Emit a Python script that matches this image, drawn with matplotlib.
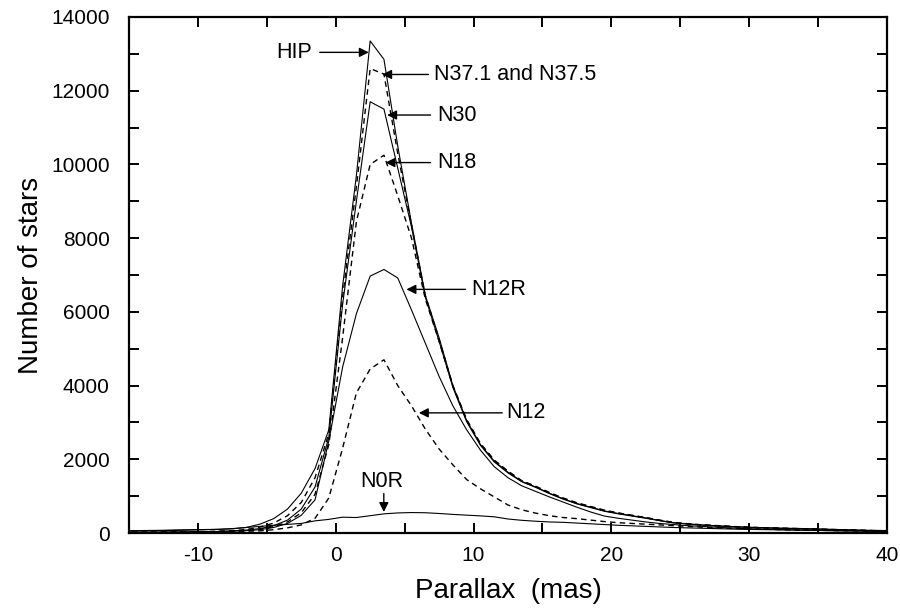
# Parallax distributions of the HIP samples (number of stars per 1 mas bin)

import numpy as np
import matplotlib
matplotlib.use('Agg')
import matplotlib.pyplot as plt
from matplotlib.ticker import MultipleLocator

plt.rcParams['font.family'] = ['Liberation Sans', 'DejaVu Sans']
plt.rcParams['axes.unicode_minus'] = False

# bin centres (mas)
parallax = [-15.5, -14.5, -13.5, -12.5, -11.5, -10.5, -9.5, -8.5, -7.5, -6.5,
            -5.5, -4.5, -3.5, -2.5, -1.5, -0.5, 0.5, 1.5, 2.5, 3.5,
            4.5, 5.5, 6.5, 7.5, 8.5, 9.5, 10.5, 11.5, 12.5, 13.5,
            14.5, 15.5, 16.5, 17.5, 18.5, 19.5, 20.5, 21.5, 22.5, 23.5,
            24.5, 25.5, 26.5, 27.5, 28.5, 29.5, 30.5, 31.5, 32.5, 33.5,
            34.5, 35.5, 36.5, 37.5, 38.5, 39.5, 40.5]

hip = [60, 65, 70, 75, 85, 90, 95, 100, 115, 150,
       240, 390, 650, 1080, 1750, 2800, 6700, 9700, 13350, 12850,
       10500, 8400, 6450, 5300, 4000, 3050, 2400, 1950, 1650, 1400,
       1250, 1080, 930, 800, 700, 600, 530, 470, 410, 340,
       280, 250, 220, 200, 180, 165, 150, 140, 130, 125,
       115, 105, 95, 85, 75, 70, 65]
n37 = [20, 22, 25, 28, 32, 36, 40, 50, 65, 95,
       160, 270, 470, 830, 1500, 2700, 6400, 9400, 12600, 12450,
       10300, 8350, 6450, 5250, 4000, 3080, 2430, 1980, 1680, 1420,
       1270, 1100, 950, 820, 720, 620, 545, 480, 420, 350,
       290, 255, 225, 205, 185, 165, 150, 138, 128, 120,
       110, 100, 90, 80, 70, 62, 58]
n30 = [18, 20, 22, 25, 28, 32, 36, 45, 58, 80,
       120, 200, 350, 650, 1250, 2600, 6200, 9000, 11700, 11500,
       9900, 8300, 6400, 5200, 3950, 3020, 2380, 1930, 1630, 1390,
       1240, 1070, 920, 790, 690, 590, 520, 460, 400, 335,
       275, 245, 215, 195, 175, 160, 145, 135, 125, 118,
       108, 98, 88, 78, 68, 60, 55]
n18 = [15, 17, 20, 22, 25, 28, 32, 40, 52, 70,
       100, 170, 300, 550, 1050, 2400, 5300, 8450, 10000, 10250,
       9150, 8000, 6350, 5200, 3980, 3060, 2420, 1970, 1670, 1410,
       1260, 1090, 940, 810, 710, 610, 540, 475, 415, 345,
       285, 250, 220, 200, 180, 163, 148, 136, 126, 118,
       108, 98, 88, 78, 68, 60, 55]
n12r = [15, 17, 20, 22, 25, 28, 32, 40, 50, 65,
        90, 150, 260, 480, 900, 2500, 4500, 5950, 6970, 7150,
        6920, 6050, 5150, 4250, 3450, 2800, 2250, 1800, 1500, 1280,
        1130, 980, 840, 700, 570, 460, 400, 350, 300, 260,
        230, 200, 180, 160, 140, 125, 110, 100, 90, 82,
        75, 68, 60, 55, 50, 45, 40]
n12 = [10, 12, 14, 16, 18, 20, 24, 30, 38, 48,
       60, 90, 140, 220, 400, 950, 2300, 3800, 4450, 4700,
       4000, 3450, 2820, 2280, 1850, 1450, 1200, 980, 760, 630,
       540, 470, 420, 390, 350, 310, 280, 260, 240, 220,
       200, 180, 160, 145, 130, 120, 110, 100, 90, 80,
       75, 70, 65, 60, 55, 50, 50]
n0r = [50, 55, 60, 65, 70, 80, 90, 100, 120, 150,
       180, 210, 235, 260, 330, 370, 430, 420, 470, 520,
       545, 555, 550, 530, 505, 485, 465, 440, 380, 345,
       320, 300, 290, 270, 250, 230, 210, 195, 180, 165,
       150, 140, 130, 120, 110, 100, 95, 90, 85, 80,
       75, 70, 65, 60, 55, 50, 50]

fig = plt.figure(figsize=(9, 6.15), dpi=100)
ax = fig.add_axes([0.1433, 0.1333, 0.8423, 0.8391])

dash = (0, (4, 3))
ax.plot(parallax, hip, color='k', lw=0.8)
ax.plot(parallax, n37, color='k', lw=1.0, ls=dash)
ax.plot(parallax, n30, color='k', lw=0.8)
ax.plot(parallax, n18, color='k', lw=1.0, ls=dash)
ax.plot(parallax, n12r, color='k', lw=0.8)
ax.plot(parallax, n12, color='k', lw=1.0, ls=dash)
ax.plot(parallax, n0r, color='k', lw=0.8)

# labels with arrows
arrow = dict(arrowstyle='-|>', color='k', lw=1.0, mutation_scale=14,
             shrinkA=0, shrinkB=0)
fs = 15.5
ax.annotate('', xy=(2.40, 13040), xytext=(-1.16, 13040), arrowprops=arrow)
ax.text(-1.71, 13040, 'HIP', fontsize=fs, ha='right', va='center')

ax.annotate('', xy=(3.37, 12440), xytext=(6.73, 12440), arrowprops=arrow)
ax.text(7.10, 12440, 'N37.1 and N37.5', fontsize=fs, ha='left', va='center')

ax.annotate('', xy=(3.73, 11340), xytext=(6.88, 11340), arrowprops=arrow)
ax.text(7.39, 11340, 'N30', fontsize=fs, ha='left', va='center')

ax.annotate('', xy=(3.61, 10050), xytext=(6.88, 10050), arrowprops=arrow)
ax.text(7.39, 10050, 'N18', fontsize=fs, ha='left', va='center')

ax.annotate('', xy=(5.13, 6610), xytext=(9.42, 6610), arrowprops=arrow)
ax.text(9.85, 6610, 'N12R', fontsize=fs, ha='left', va='center')

ax.annotate('', xy=(6.03, 3260), xytext=(12.08, 3260), arrowprops=arrow)
ax.text(12.40, 3260, 'N12', fontsize=fs, ha='left', va='center')

ax.annotate('', xy=(3.49, 570), xytext=(3.49, 1070), arrowprops=arrow)
ax.text(3.34, 1400, 'N0R', fontsize=fs, ha='center', va='center')

ax.set_xlim(-15, 40)
ax.set_ylim(0, 14000)
ax.xaxis.set_major_locator(MultipleLocator(10))
ax.xaxis.set_minor_locator(MultipleLocator(5))
ax.yaxis.set_major_locator(MultipleLocator(2000))
ax.yaxis.set_minor_locator(MultipleLocator(1000))
ax.tick_params(which='both', direction='in', top=True, right=True,
               length=7, width=1.4, labelsize=15)
ax.tick_params(axis='x', pad=9)
ax.tick_params(axis='y', pad=14)
for s in ax.spines.values():
    s.set_linewidth(1.6)

ax.set_xlabel('Parallax  (mas)', fontsize=20, labelpad=10)
ax.set_ylabel('Number of stars', fontsize=20, labelpad=5)

fig.savefig('out.png', dpi=100)
